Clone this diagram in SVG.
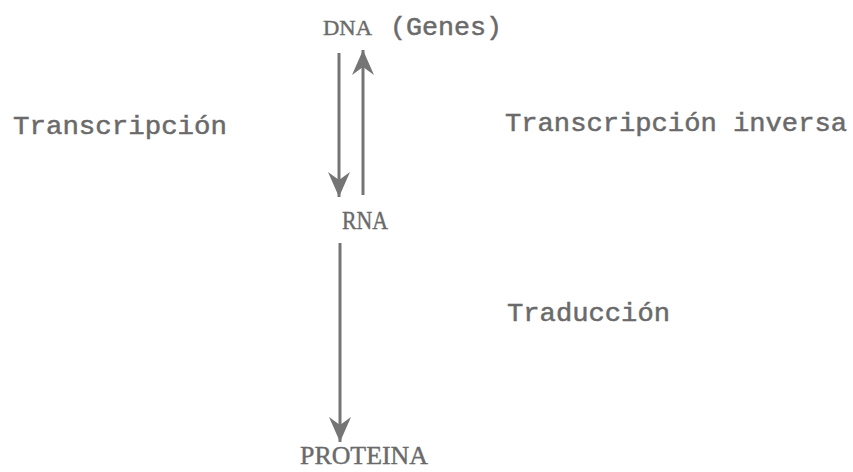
<svg xmlns="http://www.w3.org/2000/svg" width="853" height="472" viewBox="0 0 853 472">
  <style>
    .lbl { font-family: "Liberation Mono", "DejaVu Sans Mono", monospace; fill: #6a6a6a; stroke: #6a6a6a; stroke-width: 0.5; font-size: 26px; }
    .ser { font-family: "Liberation Serif", "DejaVu Serif", serif; fill: #6a6a6a; stroke: #6a6a6a; stroke-width: 0.4; }
    .edge { stroke: #757575; stroke-width: 3; fill: none; }
  </style>
  <defs>
    <marker id="head" markerUnits="userSpaceOnUse" viewBox="-26 -12 28 24" refX="0" refY="0" markerWidth="28" markerHeight="24" orient="auto">
      <path d="M0,0 L-25,-11 L-17,0 L-25,11 Z" fill="#757575"/>
    </marker>
  </defs>

  <rect width="853" height="472" fill="#ffffff"/>

  <g id="connectors">
    <line class="edge" x1="339" y1="53" x2="339" y2="197" marker-end="url(#head)"/>
    <line class="edge" x1="363" y1="195" x2="363" y2="50" marker-end="url(#head)"/>
    <line class="edge" x1="340" y1="243" x2="340" y2="442" marker-end="url(#head)"/>
  </g>

  <g id="dna">
    <text class="ser" x="323" y="35" font-size="22" textLength="49" lengthAdjust="spacingAndGlyphs">DNA</text>
    <text class="lbl" x="390" y="35" font-size="24" textLength="112" lengthAdjust="spacingAndGlyphs">(Genes)</text>
  </g>
  <g id="rna">
    <text class="ser" x="342" y="229" font-size="25" textLength="46" lengthAdjust="spacingAndGlyphs">RNA</text>
  </g>
  <g id="proteina">
    <text class="ser" x="300" y="464" font-size="25" textLength="128" lengthAdjust="spacingAndGlyphs">PROTEINA</text>
  </g>
  <g id="transcripcion">
    <text class="lbl" x="13" y="134" textLength="214" lengthAdjust="spacingAndGlyphs">Transcripción</text>
  </g>
  <g id="transcripcion-inversa">
    <text class="lbl" x="505" y="131" textLength="342" lengthAdjust="spacingAndGlyphs">Transcripción inversa</text>
  </g>
  <g id="traduccion">
    <text class="lbl" x="507" y="321" textLength="163" lengthAdjust="spacingAndGlyphs">Traducción</text>
  </g>
</svg>
